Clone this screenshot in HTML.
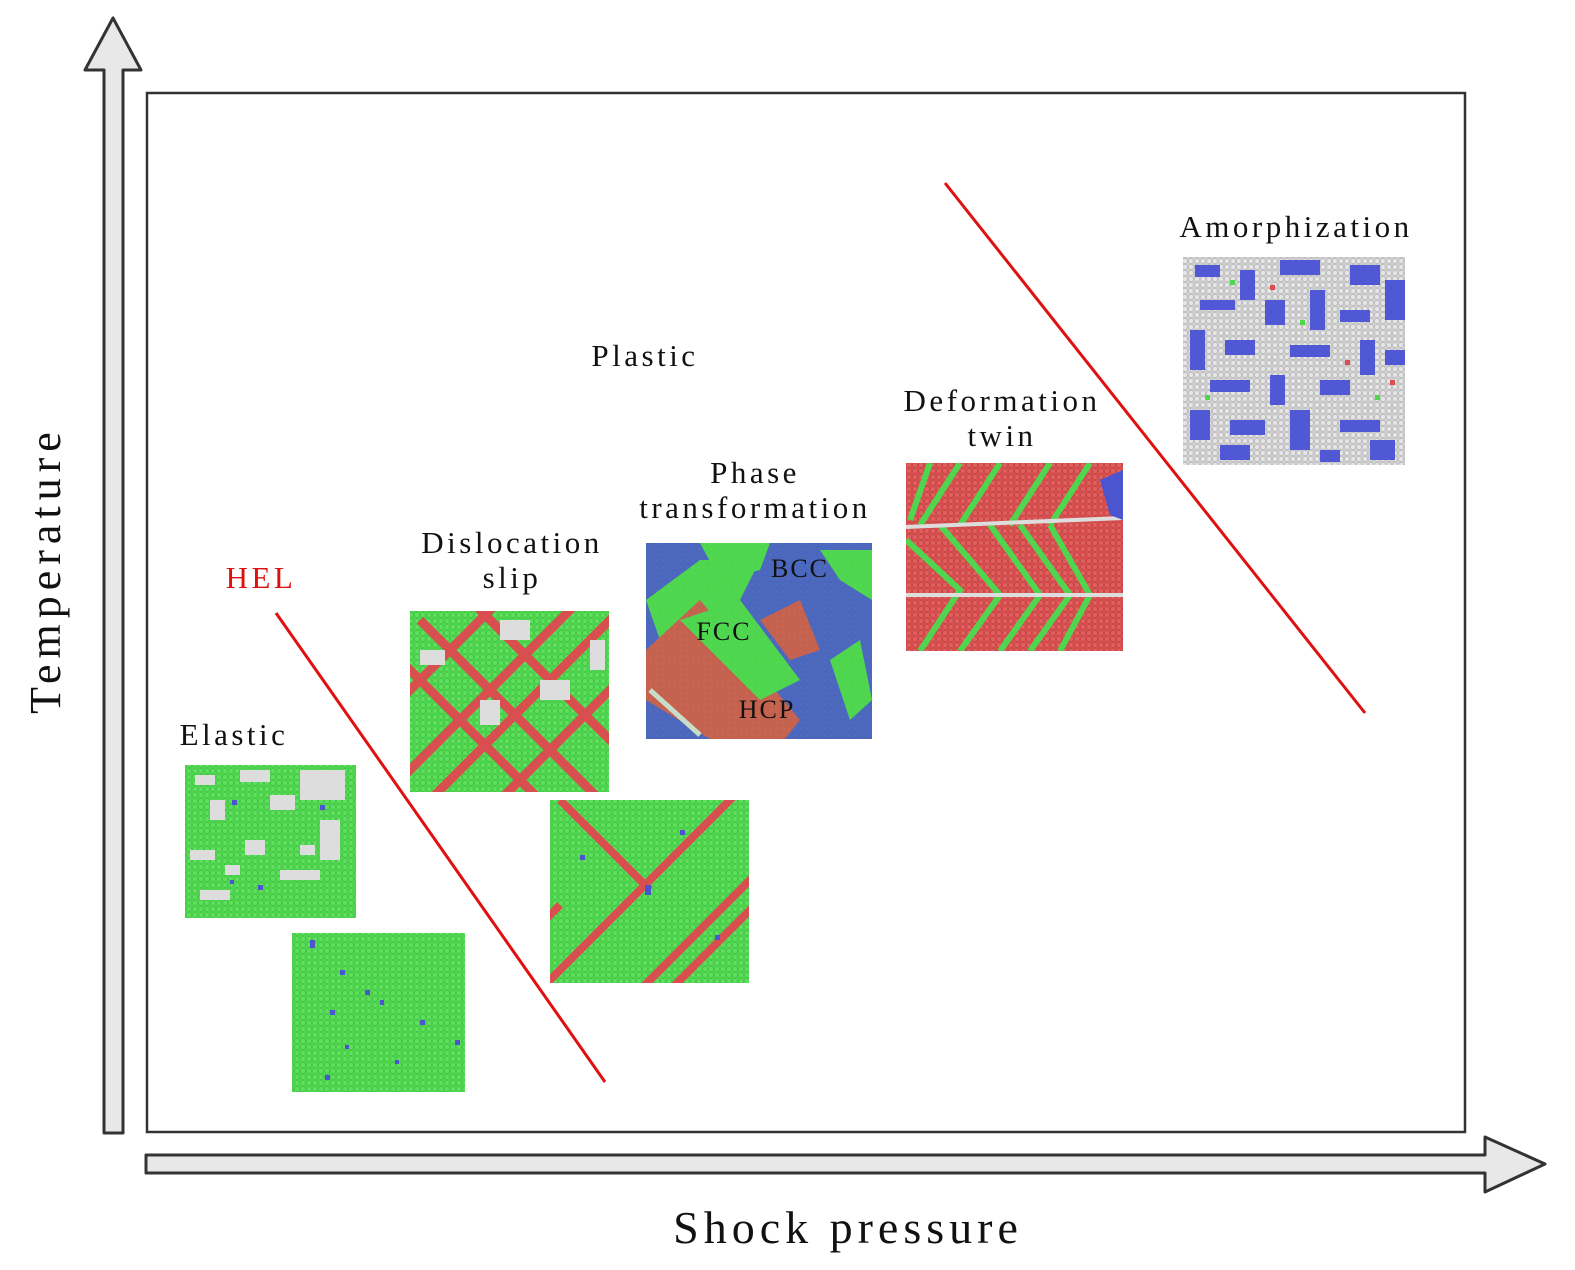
<!DOCTYPE html>
<html><head><meta charset="utf-8"><style>
body{margin:0;background:#fff;}
svg{display:block;}
text{font-family:"Liberation Serif",serif;fill:#111;}
</style></head><body>
<svg width="1575" height="1270" viewBox="0 0 1575 1270" xmlns="http://www.w3.org/2000/svg">
<defs>
<pattern id="dots" width="6" height="6" patternUnits="userSpaceOnUse"><rect width="6" height="6" fill="#4fd64f"/><circle cx="3" cy="3" r="2.4" fill="#5ee05e" stroke="#3bb83b" stroke-width="0.5"/></pattern>
<pattern id="reddots" width="6" height="6" patternUnits="userSpaceOnUse"><rect width="6" height="6" fill="#d94f4f"/><circle cx="3" cy="3" r="2.4" fill="#e06060" stroke="#b83b3b" stroke-width="0.5"/></pattern>
<pattern id="greydots" width="6" height="6" patternUnits="userSpaceOnUse"><rect width="6" height="6" fill="#cfcfcf"/><circle cx="3" cy="3" r="2.4" fill="#e6e6e6" stroke="#aaa" stroke-width="0.5"/></pattern>
<clipPath id="c1"><rect x="410" y="611" width="199" height="181"/></clipPath>
<clipPath id="c2"><rect x="550" y="800" width="199" height="183"/></clipPath>
<clipPath id="c3"><rect x="646" y="543" width="226" height="196"/></clipPath>
<clipPath id="c4"><rect x="906" y="463" width="217" height="188"/></clipPath>
</defs>

<polygon points="104,1133 123,1133 123,70 141,70 113,18 85,70 104,70" fill="#e8e8e8" stroke="#333" stroke-width="3" stroke-linejoin="round"/>
<polygon points="146,1155 1485,1155 1485,1137 1545,1164 1485,1192 1485,1173 146,1173" fill="#e8e8e8" stroke="#333" stroke-width="3" stroke-linejoin="round"/>
<rect x="147" y="93" width="1318" height="1039" fill="none" stroke="#333" stroke-width="2.5"/>

<text x="60" y="570" font-size="44" text-anchor="middle" transform="rotate(-90 60 570)" letter-spacing="6">Temperature</text>
<text x="848" y="1243" font-size="46" text-anchor="middle" letter-spacing="5">Shock pressure</text>

<line x1="276" y1="613" x2="605" y2="1082" stroke="#e01010" stroke-width="3"/>
<line x1="945" y1="183" x2="1365" y2="713" stroke="#e01010" stroke-width="3"/>

<g font-size="31" text-anchor="middle" letter-spacing="3.5">
<text x="234" y="745">Elastic</text>
<text x="261" y="588" style="fill:#e01010">HEL</text>
<text x="512" y="553">Dislocation</text>
<text x="512" y="588">slip</text>
<text x="755" y="483">Phase</text>
<text x="755" y="518">transformation</text>
<text x="645" y="366">Plastic</text>
<text x="1002" y="411">Deformation</text>
<text x="1002" y="446">twin</text>
<text x="1296" y="237">Amorphization</text>
</g>

<rect x="185" y="765" width="171" height="153" fill="url(#dots)"/>
<g fill="#ddd">
<rect x="195" y="775" width="20" height="10"/><rect x="240" y="770" width="30" height="12"/><rect x="300" y="770" width="45" height="30"/>
<rect x="210" y="800" width="15" height="20"/><rect x="270" y="795" width="25" height="15"/><rect x="320" y="820" width="20" height="40"/>
<rect x="190" y="850" width="25" height="10"/><rect x="245" y="840" width="20" height="15"/><rect x="280" y="870" width="40" height="10"/>
<rect x="200" y="890" width="30" height="10"/><rect x="300" y="845" width="15" height="10"/><rect x="225" y="865" width="15" height="10"/>
</g>
<g fill="#4b55d0"><rect x="232" y="800" width="5" height="5"/><rect x="320" y="805" width="5" height="5"/><rect x="258" y="885" width="5" height="5"/><rect x="230" y="880" width="4" height="4"/></g>

<rect x="292" y="933" width="173" height="159" fill="url(#dots)"/>
<g fill="#4b55d0"><rect x="310" y="940" width="5" height="8"/><rect x="340" y="970" width="5" height="5"/><rect x="365" y="990" width="5" height="5"/><rect x="380" y="1000" width="4" height="5"/><rect x="330" y="1010" width="5" height="5"/><rect x="420" y="1020" width="5" height="5"/><rect x="455" y="1040" width="5" height="5"/><rect x="345" y="1045" width="4" height="4"/><rect x="325" y="1075" width="5" height="5"/><rect x="395" y="1060" width="4" height="4"/></g>

<rect x="410" y="611" width="199" height="181" fill="url(#dots)"/>
<g clip-path="url(#c1)" stroke="#d94f4f" stroke-width="9">
<line x1="400" y1="700" x2="500" y2="600"/><line x1="400" y1="780" x2="580" y2="600"/><line x1="430" y1="800" x2="630" y2="600"/><line x1="500" y1="800" x2="630" y2="670"/>
<line x1="420" y1="620" x2="600" y2="800"/><line x1="400" y1="660" x2="540" y2="800"/><line x1="470" y1="600" x2="630" y2="760"/>
</g>
<g fill="#ddd"><rect x="500" y="620" width="30" height="20"/><rect x="420" y="650" width="25" height="15"/><rect x="540" y="680" width="30" height="20"/><rect x="590" y="640" width="15" height="30"/><rect x="480" y="700" width="20" height="25"/></g>

<rect x="550" y="800" width="199" height="183" fill="url(#dots)"/>
<g clip-path="url(#c2)" stroke="#d94f4f" stroke-width="8">
<line x1="540" y1="990" x2="740" y2="790"/><line x1="640" y1="990" x2="760" y2="870"/><line x1="670" y1="990" x2="760" y2="900"/>
<line x1="560" y1="800" x2="650" y2="890"/><line x1="545" y1="920" x2="560" y2="905"/>
</g>
<g fill="#4b55d0"><rect x="645" y="885" width="6" height="10"/><rect x="580" y="855" width="5" height="5"/><rect x="680" y="830" width="5" height="5"/><rect x="715" y="935" width="5" height="5"/></g>

<rect x="646" y="543" width="226" height="196" fill="#4b55d0"/>
<g clip-path="url(#c3)">
<polygon points="646,600 700,560 760,560 730,620 700,650 660,640" fill="#4fd64f"/>
<polygon points="646,650 700,600 800,720 780,745 720,745 646,700" fill="#d94f4f"/>
<polygon points="680,620 740,600 800,680 760,700" fill="#4fd64f"/>
<polygon points="700,543 770,543 760,570 720,580" fill="#4fd64f"/>
<polygon points="820,550 872,550 872,600 840,580" fill="#4fd64f"/>
<polygon points="830,660 860,640 872,700 850,720" fill="#4fd64f"/>
<polygon points="760,620 800,600 820,650 790,660" fill="#d94f4f"/>
<line x1="650" y1="690" x2="700" y2="735" stroke="#ddd" stroke-width="5"/>
<rect x="646" y="543" width="226" height="196" fill="url(#dots)" opacity="0.15"/>
</g>
<g font-size="26" text-anchor="middle" letter-spacing="2"><text x="800" y="577">BCC</text><text x="724" y="640">FCC</text><text x="767" y="718">HCP</text></g>

<rect x="906" y="463" width="217" height="188" fill="url(#reddots)"/>
<g clip-path="url(#c4)" stroke="#4fd64f" stroke-width="6" fill="none">
<polyline points="930,463 910,520"/><polyline points="960,463 920,525"/>
<polyline points="1000,463 960,525"/><polyline points="1050,463 1010,525"/><polyline points="1090,463 1050,525"/>
<polyline points="906,540 960,590 920,651"/><polyline points="940,525 1000,595 960,651"/><polyline points="990,525 1040,595 1000,651"/><polyline points="1020,525 1070,595 1030,651"/><polyline points="1050,525 1090,595 1060,651"/>
</g>
<line x1="906" y1="527" x2="1123" y2="518" stroke="#ddd" stroke-width="4"/>
<line x1="906" y1="595" x2="1123" y2="595" stroke="#ddd" stroke-width="4"/>
<polygon points="1100,480 1123,470 1123,520 1110,515" fill="#4b55d0"/>

<rect x="1183" y="257" width="222" height="208" fill="url(#greydots)"/>
<g fill="#5058d6">
<rect x="1195" y="265" width="25" height="12"/><rect x="1240" y="270" width="15" height="30"/><rect x="1280" y="260" width="40" height="15"/><rect x="1350" y="265" width="30" height="20"/><rect x="1385" y="280" width="20" height="40"/>
<rect x="1200" y="300" width="35" height="10"/><rect x="1265" y="300" width="20" height="25"/><rect x="1310" y="290" width="15" height="40"/><rect x="1340" y="310" width="30" height="12"/>
<rect x="1190" y="330" width="15" height="40"/><rect x="1225" y="340" width="30" height="15"/><rect x="1290" y="345" width="40" height="12"/><rect x="1360" y="340" width="15" height="35"/><rect x="1385" y="350" width="20" height="15"/>
<rect x="1210" y="380" width="40" height="12"/><rect x="1270" y="375" width="15" height="30"/><rect x="1320" y="380" width="30" height="15"/><rect x="1190" y="410" width="20" height="30"/>
<rect x="1230" y="420" width="35" height="15"/><rect x="1290" y="410" width="20" height="40"/><rect x="1340" y="420" width="40" height="12"/><rect x="1220" y="445" width="30" height="15"/><rect x="1370" y="440" width="25" height="20"/><rect x="1320" y="450" width="20" height="12"/>
</g>
<g fill="#4fd64f"><rect x="1230" y="280" width="5" height="5"/><rect x="1300" y="320" width="5" height="5"/><rect x="1375" y="395" width="5" height="5"/><rect x="1205" y="395" width="5" height="5"/></g>
<g fill="#d94f4f"><rect x="1270" y="285" width="5" height="5"/><rect x="1345" y="360" width="5" height="5"/><rect x="1390" y="380" width="5" height="5"/></g>
</svg>
</body></html>
